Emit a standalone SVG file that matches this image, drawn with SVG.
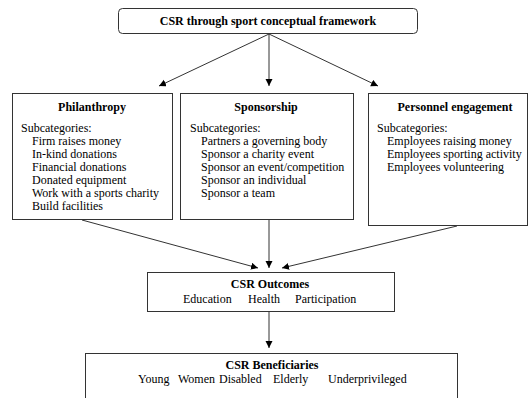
<svg xmlns="http://www.w3.org/2000/svg" width="531" height="398" viewBox="0 0 531 398">
<style>
text{font-family:'Liberation Serif','Times New Roman','DejaVu Serif',serif;font-size:12px;fill:#000}
.b{font-weight:bold}
.m{text-anchor:middle}
.box{fill:#fff;stroke:#333;stroke-width:1}
.con{stroke:#333;stroke-width:1;fill:none}
</style>
<defs>
<marker id="ah" markerWidth="8" markerHeight="8" refX="7" refY="3.5" orient="auto" markerUnits="userSpaceOnUse">
<path d="M0,0 L7,3.5 L0,7 Z" fill="#000"/>
</marker>
</defs>
<rect width="531" height="398" fill="#fff"/>
<g id="connectors">
<line class="con" x1="269" y1="34" x2="159" y2="86" marker-end="url(#ah)"/>
<line class="con" x1="269" y1="34" x2="269" y2="86" marker-end="url(#ah)"/>
<line class="con" x1="269" y1="34" x2="378" y2="86" marker-end="url(#ah)"/>
<line class="con" x1="82" y1="220" x2="258" y2="268" marker-end="url(#ah)"/>
<line class="con" x1="269" y1="220" x2="269" y2="268" marker-end="url(#ah)"/>
<line class="con" x1="457" y1="226" x2="282" y2="268" marker-end="url(#ah)"/>
<line class="con" x1="269" y1="311" x2="269" y2="348" marker-end="url(#ah)"/>
</g>
<g font-family="Liberation Serif, Times New Roman, serif" font-size="12">
<g id="top">
<rect class="box" x="118.5" y="8.5" width="299" height="25" rx="4"/>
<text class="b m" x="268" y="25">CSR through sport conceptual framework</text>
</g>
<g id="philanthropy">
<rect class="box" x="12.5" y="93.5" width="160" height="126"/>
<text class="b m" x="92" y="111">Philanthropy</text>
<text x="21" y="132">Subcategories:</text>
<text x="32" y="145">Firm raises money</text>
<text x="32" y="158">In-kind donations</text>
<text x="32" y="171">Financial donations</text>
<text x="32" y="184">Donated equipment</text>
<text x="32" y="197">Work with a sports charity</text>
<text x="32" y="210">Build facilities</text>
</g>
<g id="sponsorship">
<rect class="box" x="180.5" y="93.5" width="173" height="126"/>
<text class="b m" x="266" y="111">Sponsorship</text>
<text x="190" y="132">Subcategories:</text>
<text x="201" y="145">Partners a governing body</text>
<text x="201" y="158">Sponsor a charity event</text>
<text x="201" y="171">Sponsor an event/competition</text>
<text x="201" y="184">Sponsor an individual</text>
<text x="201" y="197">Sponsor a team</text>
</g>
<g id="personnel">
<rect class="box" x="368.5" y="93.5" width="159" height="132"/>
<text class="b m" x="455" y="111">Personnel engagement</text>
<text x="377" y="132">Subcategories:</text>
<text x="387" y="145">Employees raising money</text>
<text x="387" y="158">Employees sporting activity</text>
<text x="387" y="171">Employees volunteering</text>
</g>
<g id="outcomes">
<rect class="box" x="147.5" y="272.5" width="247" height="39"/>
<text class="b m" x="270" y="288">CSR Outcomes</text>
<text x="183" y="303">Education</text>
<text x="248" y="303">Health</text>
<text x="295" y="303">Participation</text>
</g>
<g id="beneficiaries">
<rect class="box" x="85.5" y="353.5" width="372" height="60"/>
<text class="b m" x="272" y="369">CSR Beneficiaries</text>
<text x="138" y="383">Young</text>
<text x="178" y="383">Women</text>
<text x="219" y="383">Disabled</text>
<text x="273" y="383">Elderly</text>
<text x="328" y="383">Underprivileged</text>
</g>
</g>
</svg>
